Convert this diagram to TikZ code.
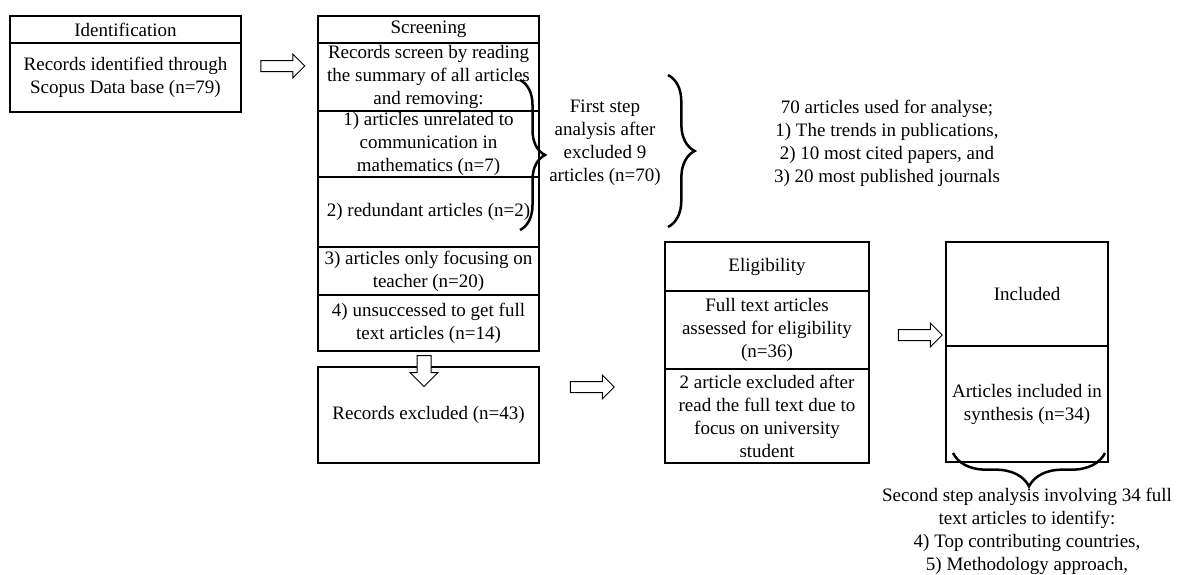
\documentclass[tikz,border=0pt]{standalone}
\usepackage{fontspec}
\setmainfont{Liberation Serif}
\usetikzlibrary{positioning,shapes.arrows,decorations.pathreplacing}
\tikzset{
  txt/.style={font=\fontsize{11.4}{13.8}\selectfont},
  cell/.style={draw, line width=0.6pt, inner sep=0pt, align=center, txt},
  frame/.style={draw, line width=1.6pt},
  fatarrow/.style={single arrow, draw, line width=0.6pt, fill=white, inner sep=0pt,
    single arrow head extend=3.9pt, single arrow tip angle=90,
    minimum height=26.4pt, minimum width=13.8pt},
  curly/.style={decorate, decoration={brace, amplitude=#1}, line width=1.5pt},
  note/.style={align=center, txt}
}
\begin{document}
\begin{tikzpicture}[x=0.6pt, y=-0.6pt]
  \useasboundingbox (0,0) rectangle (1180,574);

  % identification
  \node[cell, minimum width=138pt, minimum height=15.6pt, anchor=north west] (idhead) at (10,16) {Identification};
  \node[cell, minimum width=138pt, minimum height=40.8pt, below=0pt of idhead] (idbody) {Records identified through\\Scopus Data base (n=79)};
  \draw[frame] (idhead.north west) rectangle (idbody.south east);
  \draw[frame] (idhead.south west) -- (idhead.south east);

  % screening
  \node[cell, minimum width=132pt, minimum height=15.6pt, anchor=north west] (schead) at (318,16) {Screening};
  \node[cell, minimum width=132pt, minimum height=40.2pt, below=0pt of schead] (sc1) {Records screen by reading\\the summary of all articles\\and removing:};
  \node[cell, minimum width=132pt, minimum height=39pt, below=0pt of sc1] (sc2) {1) articles unrelated to\\communication in\\mathematics (n=7)};
  \node[cell, minimum width=132pt, minimum height=41.4pt, below=0pt of sc2] (sc3) {2) redundant articles (n=2)};
  \node[cell, minimum width=132pt, minimum height=28.2pt, below=0pt of sc3] (sc4) {3) articles only focusing on\\teacher (n=20)};
  \node[cell, minimum width=132pt, minimum height=33pt, below=0pt of sc4] (sc5) {4) unsuccessed to get full\\text articles (n=14)};
  \draw[frame] (schead.north west) rectangle (sc5.south east);
  \draw[frame] (schead.south west) -- (schead.south east);

  % excluded
  \node[cell, minimum width=132pt, minimum height=57pt, anchor=north west] (excl) at (318,367) {Records excluded (n=43)};
  \draw[frame] (excl.north west) rectangle (excl.south east);

  % eligibility
  \node[cell, minimum width=121.8pt, minimum height=28.8pt, anchor=north west] (elhead) at (665,242) {Eligibility};
  \node[cell, minimum width=121.8pt, minimum height=46.2pt, below=0pt of elhead] (el1) {Full text articles\\assessed for eligibility\\(n=36)};
  \node[cell, minimum width=121.8pt, minimum height=55.8pt, below=0pt of el1] (el2) {2 article excluded after\\read the full text due to\\focus on university\\student};
  \draw[frame] (elhead.north west) rectangle (el2.south east);
  \draw[line width=1.2pt] (elhead.south west) -- (elhead.south east);

  % included
  \node[cell, minimum width=96.6pt, minimum height=61.8pt, anchor=north west] (inhead) at (946,242) {Included};
  \node[cell, minimum width=96.6pt, minimum height=69pt, below=0pt of inhead] (in1) {Articles included in\\synthesis (n=34)};
  \draw[frame] (inhead.north west) rectangle (in1.south east);
  \draw[line width=1.2pt] (inhead.south west) -- (inhead.south east);

  % block arrows
  \node[fatarrow] (a1) at (280,66) {\rule{0pt}{6pt}};
  \node[fatarrow, shape border rotate=270, minimum height=18.6pt, minimum width=16.2pt, single arrow head extend=4.2pt] (a2) at (424,367.5) {\rule{7.8pt}{0pt}};
  \node[fatarrow] (a3) at (589.5,387) {\rule{0pt}{6pt}};
  \node[fatarrow] (a4) at (917.5,335) {\rule{0pt}{6pt}};

  % braces and notes
  \draw[curly=15pt] (520,80) -- (520,230);
  \node[note] (first) at (605,143) {First step\\analysis after\\excluded 9\\articles (n=70)};
  \draw[curly=16pt] (668,75) -- (668,227);
  \node[note] (used) at (887,143) {70 articles used for analyse;\\1) The trends in publications,\\2) 10 most cited papers, and\\3) 20 most published journals};
  \draw[curly=20pt] (1105,453) -- (953,453);
  \node[note] (second) at (1027,531.5) {Second step analysis involving 34 full\\text articles to identify:\\4) Top contributing countries,\\5) Methodology approach,};
\end{tikzpicture}
\end{document}
